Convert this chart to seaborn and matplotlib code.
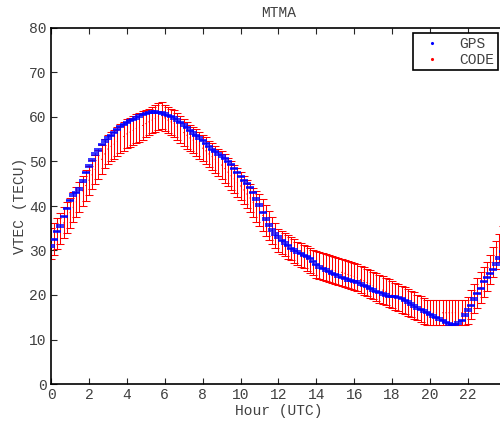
import numpy as np
import matplotlib
matplotlib.use("Agg")
import matplotlib.pyplot as plt
from matplotlib.lines import Line2D
import seaborn as sns
import pandas as pd

# sampling grid: every 10 minutes (hours UTC)
hours = np.arange(144) / 6.0

gps_vtec = [
    31.0, 32.5, 34.2, 35.5, 37.6, 39.5,
    41.2, 42.5, 43.1, 43.8, 45.6, 47.5,
    49.0, 50.3, 51.7, 52.6, 53.8, 54.6,
    55.3, 55.9, 56.5, 57.2, 57.9, 58.3,
    58.7, 59.2, 59.5, 59.8, 60.2, 60.5,
    60.8, 61.0, 61.1, 61.1, 61.0, 60.9,
    60.7, 60.4, 60.1, 59.8, 59.3, 58.8,
    58.2, 57.6, 57.0, 56.4, 55.8, 55.3,
    54.7, 54.0, 53.3, 52.7, 52.2, 51.7,
    51.2, 50.6, 50.0, 49.4, 48.5, 47.6,
    46.6, 45.8, 45.0, 44.2, 43.0, 41.6,
    40.2, 38.6, 37.1, 35.7, 34.6, 33.7,
    33.0, 32.3, 31.7, 31.1, 30.5, 30.1,
    29.7, 29.3, 28.9, 28.6, 28.2, 27.5,
    26.8, 26.3, 25.9, 25.6, 25.3, 24.9,
    24.6, 24.3, 24.0, 23.7, 23.4, 23.2,
    23.1, 22.9, 22.5, 22.2, 21.9, 21.5,
    21.1, 20.8, 20.5, 20.2, 20.0, 19.7,
    19.6, 19.6, 19.5, 19.2, 18.8, 18.4,
    18.0, 17.5, 17.1, 16.7, 16.4, 16.0,
    15.6, 15.3, 15.0, 14.6, 14.2, 13.8,
    13.5, 13.3, 13.4, 13.7, 14.3, 15.5,
    16.6, 17.6, 19.1, 20.4, 21.5, 23.0,
    24.0, 24.8, 25.8, 27.0, 28.3, 29.8,
]

code_vtec = [
    31.5, 32.6, 33.8, 35.0, 36.2, 37.4,
    38.5, 39.7, 40.9, 42.1, 43.4, 44.6,
    45.8, 47.0, 48.2, 49.3, 50.5, 51.7,
    52.8, 53.4, 53.9, 54.5, 55.1, 55.6,
    56.2, 56.6, 57.0, 57.4, 57.7, 58.1,
    58.5, 58.9, 59.3, 59.7, 60.1, 60.3,
    59.8, 59.3, 58.9, 58.5, 57.8, 57.2,
    56.5, 55.9, 55.3, 54.8, 54.2, 53.6,
    53.0, 52.4, 51.7, 51.1, 50.5, 49.8,
    49.2, 48.4, 47.6, 46.8, 46.1, 45.3,
    44.5, 43.6, 42.7, 41.8, 40.8, 39.9,
    39.0, 37.9, 36.8, 35.6, 34.5, 33.4,
    32.3, 31.8, 31.3, 30.8, 30.4, 29.9,
    29.4, 29.0, 28.6, 28.2, 27.7, 27.3,
    26.9, 26.7, 26.4, 26.2, 26.0, 25.7,
    25.5, 25.3, 25.1, 24.9, 24.6, 24.4,
    24.2, 23.9, 23.5, 23.2, 22.8, 22.5,
    22.1, 21.8, 21.4, 21.1, 20.8, 20.4,
    20.1, 19.7, 19.4, 19.0, 18.7, 18.3,
    18.0, 17.6, 17.2, 16.8, 16.4, 16.1,
    16.0, 16.0, 16.0, 16.0, 16.0, 16.0,
    16.0, 16.0, 16.0, 16.0, 16.0, 16.0,
    16.5, 17.9, 19.2, 20.4, 21.7, 22.9,
    24.2, 25.8, 27.4, 29.0, 30.6, 32.2,
]

code_err = [
    3.5, 3.5, 3.5, 3.5, 3.5, 3.5,
    3.4, 3.4, 3.4, 3.4, 3.4, 3.4,
    3.25, 3.25, 3.25, 3.25, 3.25, 3.25,
    3.25, 3.25, 3.25, 3.25, 3.25, 3.25,
    3.25, 3.25, 3.25, 3.25, 3.25, 3.25,
    3.0, 3.0, 3.0, 3.0, 3.0, 3.0,
    3.0, 3.0, 3.0, 3.0, 3.0, 3.0,
    3.0, 3.0, 3.0, 3.0, 3.0, 3.0,
    3.0, 3.0, 3.0, 3.0, 3.0, 3.0,
    3.2, 3.2, 3.2, 3.2, 3.2, 3.2,
    3.2, 3.2, 3.2, 3.2, 3.3, 3.4,
    3.6, 3.6, 3.5, 3.3, 3.0, 2.8,
    2.6, 2.6, 2.6, 2.6, 2.6, 2.6,
    2.6, 2.6, 2.6, 2.7, 2.8, 2.9,
    3.0, 3.0, 3.0, 3.0, 3.0, 3.0,
    3.0, 3.0, 3.0, 3.0, 3.0, 3.0,
    3.1, 3.1, 3.1, 3.1, 3.1, 3.1,
    3.1, 3.1, 3.1, 3.1, 3.1, 3.1,
    3.1, 3.1, 3.1, 3.0, 3.0, 3.0,
    3.0, 3.0, 2.9, 2.9, 2.9, 2.85,
    2.8, 2.8, 2.8, 2.8, 2.8, 2.8,
    2.8, 2.8, 2.8, 2.8, 2.8, 2.8,
    3.0, 3.2, 3.3, 3.4, 3.4, 3.3,
    3.3, 3.3, 3.3, 3.2, 3.2, 3.2,
]

gps_err = 0.15  # GPS uncertainty (tiny, shows as short dashes)

x_ticks = [0, 2, 4, 6, 8, 10, 12, 14, 16, 18, 20, 22]
y_ticks = [0, 10, 20, 30, 40, 50, 60, 70, 80]

df = pd.DataFrame({"hour": hours, "gps": gps_vtec, "code": code_vtec, "err": code_err})

sns.set_style("ticks")
mono = ["Liberation Mono", "DejaVu Sans Mono"]
plt.rcParams["font.family"] = mono
text_col = "#404040"

W, H = 500, 423
fig = plt.figure(figsize=(W / 100, H / 100), dpi=100)
ax = fig.add_axes([51 / W, (H - 384) / H, 24 * 18.95 / W, (384 - 28) / H])

# CODE: red error bars
ax.errorbar(df["hour"], df["code"], yerr=df["err"], fmt="none", ecolor="#ff0000",
            elinewidth=0.75, capsize=3.0, capthick=0.75, zorder=2)
sns.scatterplot(data=df, x="hour", y="code", ax=ax, color="#ff0000", s=0.6,
                edgecolor="none", zorder=3, legend=False)

# GPS: blue error bars (very small)
ax.errorbar(df["hour"], df["gps"], yerr=gps_err, fmt="none", ecolor="#0000ff",
            elinewidth=0.5, capsize=2.8, capthick=1.1, zorder=4)
sns.scatterplot(data=df, x="hour", y="gps", ax=ax, color="#0000ff", s=0.6,
                edgecolor="none", zorder=5, legend=False)

ax.set_xlim(0, 24)
ax.set_ylim(0, 80)
ax.set_xticks(x_ticks)
ax.set_yticks(y_ticks)
ax.tick_params(direction="in", length=4, width=0.8, top=True, right=True,
               labelsize=10.5, labelcolor=text_col, pad=3)
for s in ax.spines.values():
    s.set_linewidth(1.2)
    s.set_color("black")

ax.set_xlabel("Hour (UTC)", fontsize=10.5, color=text_col, labelpad=1)
ax.set_ylabel("VTEC (TECU)", fontsize=10.5, color=text_col, labelpad=2)
ax.set_title("MTMA", fontsize=10.5, color=text_col, pad=8)

handles = [Line2D([], [], linestyle="none", marker=".", markersize=2.5, color="#0000ff"),
           Line2D([], [], linestyle="none", marker=".", markersize=2.5, color="#ff0000")]
leg = ax.legend(handles, ["GPS", "CODE"], loc="upper right",
                bbox_to_anchor=(498 / W, 1 - 33 / H), bbox_transform=fig.transFigure,
                borderaxespad=0, fancybox=False, framealpha=1, fontsize=10.5,
                handlelength=2.0, handletextpad=0.9, borderpad=0.25, labelspacing=0.15)
leg.get_frame().set_edgecolor("black")
leg.get_frame().set_linewidth(1.2)
for t in leg.get_texts():
    t.set_color(text_col)

fig.savefig("out.png", dpi=100)
